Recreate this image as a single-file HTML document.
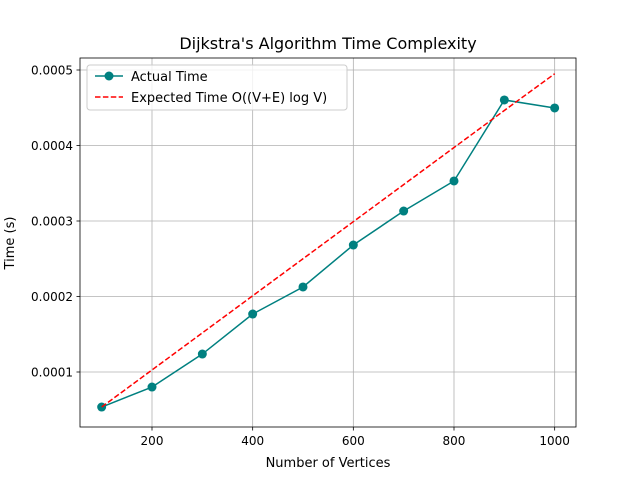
<!DOCTYPE html>
<html><head><meta charset="utf-8"><style>
body{margin:0;background:#fff}
text{font-family:"DejaVu Sans","Liberation Sans",sans-serif;fill:#000}
</style></head><body>
<svg id="chart" width="640" height="480" xmlns="http://www.w3.org/2000/svg">
<rect width="640" height="480" fill="#fff"/>
<text x="328" y="49" font-size="16" text-anchor="middle">Dijkstra's Algorithm Time Complexity</text>
<g id="grid"></g>
<g id="ticks"></g>
<g id="series"></g>
<rect x="80" y="58" width="496" height="369" fill="none" stroke="#000" stroke-width="0.8"/>
<text x="328" y="467" font-size="13" text-anchor="middle">Number of Vertices</text>
<text x="0" y="0" font-size="13" text-anchor="middle" transform="translate(14,243) rotate(-90)">Time (s)</text>
<g>
<rect x="87" y="65" width="260" height="45" rx="3" fill="#fff" fill-opacity="0.8" stroke="#ccc"/>
<line x1="95" y1="76" x2="123" y2="76" stroke="#008080" stroke-width="1.5"/>
<circle cx="109" cy="76" r="4.5" fill="#008080"/>
<text x="131" y="81" font-size="13">Actual Time</text>
<line x1="95" y1="97" x2="123" y2="97" stroke="#ff0000" stroke-width="1.5" stroke-dasharray="5.5,2.4"/>
<text x="131" y="102" font-size="13">Expected Time O((V+E) log V)</text>
</g>
</svg>
<script>
const vertices=[100,200,300,400,500,600,700,800,900,1000];
const actualTimes=[0.0000536,0.0000801,0.0001238,0.0001768,0.0002126,0.0002682,0.0003132,0.0003530,0.0004603,0.0004497];
const expectedTimes=[0.0000536,0.0001027,0.0001518,0.0002009,0.0002500,0.0002991,0.0003482,0.0003973,0.0004464,0.0004950];
const xTicks=[200,400,600,800,1000];
const yTicks=[0.0001,0.0002,0.0003,0.0004,0.0005];
const yTickLabels=["0.0001","0.0002","0.0003","0.0004","0.0005"];
const NS="http://www.w3.org/2000/svg";
function xs(v){return 152+(v-200)*0.50333;}
function ys(v){return 447.5-v*755000;}
function mk(tag,attrs,parent){const e=document.createElementNS(NS,tag);for(const k in attrs)e.setAttribute(k,attrs[k]);parent.appendChild(e);return e;}
const grid=document.getElementById('grid'),ticks=document.getElementById('ticks'),series=document.getElementById('series');
xTicks.forEach(t=>{const x=xs(t);
const g=mk('line',{x1:x,y1:58,x2:x,y2:427,stroke:'#b0b0b0','stroke-width':0.8},grid);


const tk=mk('line',{x1:x,y1:427,x2:x,y2:430.5,stroke:'#000','stroke-width':0.8},ticks);


const tx=mk('text',{x:x,y:445,'font-size':12,'text-anchor':'middle'},ticks);tx.textContent=t;

});
yTicks.forEach((t,i)=>{const y=ys(t);
const g=mk('line',{x1:80,y1:y,x2:576,y2:y,stroke:'#b0b0b0','stroke-width':0.8},grid);


const tk=mk('line',{x1:76.5,y1:y,x2:80,y2:y,stroke:'#000','stroke-width':0.8},ticks);


const tx=mk('text',{x:73,y:y+4.5,'font-size':12,'text-anchor':'end'},ticks);tx.textContent=yTickLabels[i];

});
const a=mk('polyline',{points:vertices.map((v,i)=>xs(v)+','+ys(actualTimes[i])).join(' '),fill:'none',stroke:'#008080','stroke-width':1.5},series);


vertices.forEach((v,i)=>{const c=mk('circle',{cx:xs(v),cy:ys(actualTimes[i]),r:4.5,fill:'#008080'},series);

});
const e=mk('polyline',{points:vertices.map((v,i)=>xs(v)+','+ys(expectedTimes[i])).join(' '),fill:'none',stroke:'#ff0000','stroke-width':1.5,'stroke-dasharray':'5.5,2.4'},series);


</script>
</body></html>
